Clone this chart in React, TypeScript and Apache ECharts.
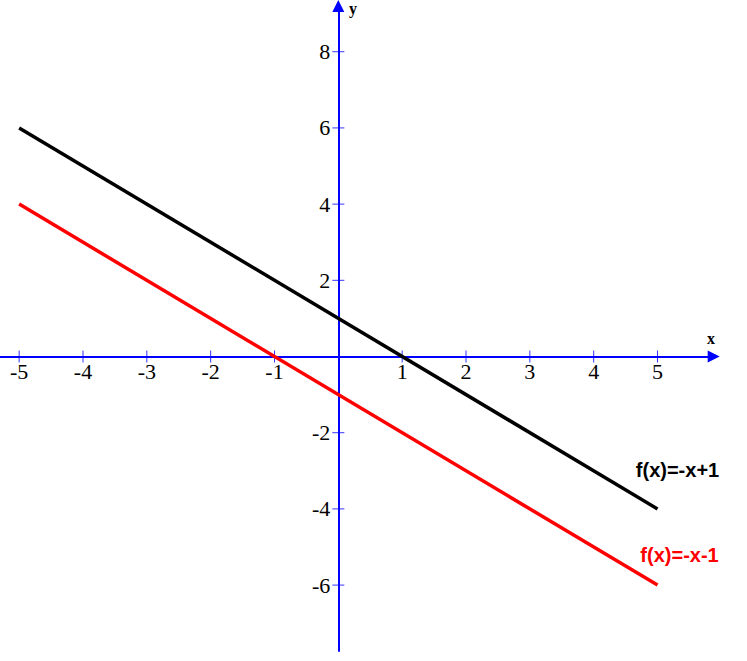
import React, { useEffect, useRef } from "react";
import * as echarts from "echarts";

const xTickValues = [-5, -4, -3, -2, -1, 1, 2, 3, 4, 5];
const yTickValues = [-6, -4, -2, 2, 4, 6, 8];
const lineXs = [-5, 5];
const blackYs = [6, -4];
const redYs = [4, -6];
const blackLabel = "f(x)=-x+1";
const redLabel = "f(x)=-x-1";

export default function App() {
  const ref = useRef<HTMLDivElement>(null);
  useEffect(() => {
    if (!ref.current) return;
    const chart = echarts.init(ref.current, null, { renderer: "svg" });
    const blue = "#0000ff";
    const tickFont = { fontFamily: "Liberation Serif", fontSize: 22, color: "#000" };
    const labelStyle = (text: string, color: string, offset: number[]) => ({
      show: true,
      position: "top",
      offset,
      formatter: text,
      fontFamily: "Liberation Sans",
      fontWeight: "bold",
      fontSize: 20,
      color,
    });
    chart.setOption({
      animation: false,
      grid: {
        left: 0,
        top: 6,
        width: 713.7,
        height: 645,
        containLabel: false,
        outerBoundsMode: "none",
      },
      xAxis: {
        type: "value",
        min: -5.3,
        max: 5.88,
        position: "bottom",
        offset: -294.5,
        splitLine: { show: false },
        axisLine: {
          onZero: false,
          lineStyle: { color: blue, width: 2 },
          symbol: ["none", "triangle"],
          symbolSize: [12, 12],
        },
        axisTick: { show: false },
        axisLabel: { customValues: xTickValues, margin: 4, ...tickFont },
      },
      yAxis: {
        type: "value",
        min: -7.73,
        max: 9.2,
        position: "left",
        offset: -338.3,
        splitLine: { show: false },
        axisLine: {
          onZero: false,
          lineStyle: { color: blue, width: 2 },
          symbol: ["none", "triangle"],
          symbolSize: [12, 12],
        },
        axisTick: { show: false },
        axisLabel: { customValues: yTickValues, margin: 8, ...tickFont },
      },
      graphic: [
        {
          type: "text",
          left: 707,
          top: 330,
          style: { text: "x", fontFamily: "Liberation Serif", fontWeight: "bold", fontSize: 16, fill: "#000" },
        },
        {
          type: "text",
          left: 349,
          top: 0,
          style: { text: "y", fontFamily: "Liberation Serif", fontWeight: "bold", fontSize: 16, fill: "#000" },
        },
      ],
      series: [
        {
          type: "scatter",
          silent: true,
          symbol: "rect",
          symbolSize: [1, 12],
          itemStyle: { color: blue },
          data: xTickValues.map((v) => [v, 0]),
          z: 1,
        },
        {
          type: "scatter",
          silent: true,
          symbol: "rect",
          symbolSize: [12, 1],
          itemStyle: { color: blue },
          data: yTickValues.map((v) => [0, v]),
          z: 1,
        },
        {
          type: "line",
          symbol: "circle",
          symbolSize: 0.1,
          showSymbol: true,
          itemStyle: { color: "#000" },
          lineStyle: { color: "#000", width: 3.5 },
          data: lineXs.map((x, i) => {
            const item: any = { value: [x, blackYs[i]] };
            if (i === lineXs.length - 1) item.label = labelStyle(blackLabel, "#000", [20, -24]);
            return item;
          }),
          z: 3,
        },
        {
          type: "line",
          symbol: "circle",
          symbolSize: 0.1,
          showSymbol: true,
          itemStyle: { color: "#ff0000" },
          lineStyle: { color: "#ff0000", width: 3.5 },
          data: lineXs.map((x, i) => {
            const item: any = { value: [x, redYs[i]] };
            if (i === lineXs.length - 1) item.label = labelStyle(redLabel, "#ff0000", [22, -15]);
            return item;
          }),
          z: 3,
        },
      ],
    });
    return () => chart.dispose();
  }, []);
  return (
    <div
      ref={ref}
      style={{ position: "absolute", left: 0, top: 0, width: 747, height: 661, background: "#fff" }}
    />
  );
}
